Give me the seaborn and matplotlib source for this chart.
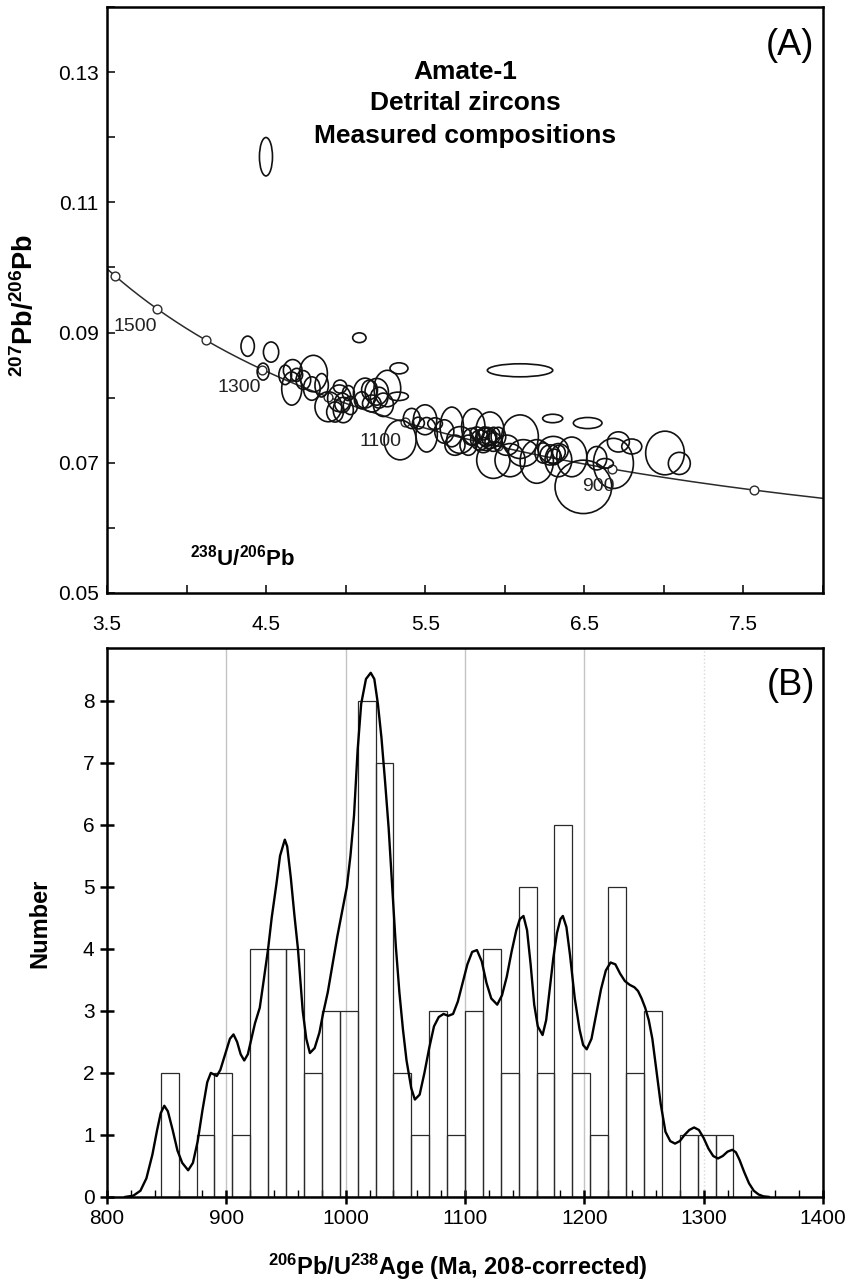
import numpy as np
import matplotlib
matplotlib.use("Agg")
import matplotlib.pyplot as plt
from matplotlib.patches import Ellipse
from matplotlib.ticker import MultipleLocator
import seaborn as sns

# ---------------- Panel A: measured compositions (Tera-Wasserburg) ----------------
# error ellipses: centre (238U/206Pb, 207Pb/206Pb) and full width / height
ell_x = [4.499, 4.384, 4.531, 5.086, 4.481, 5.335, 4.667, 4.661, 4.797, 4.734,
         4.787, 4.849, 4.692, 4.891, 4.960, 4.985, 4.965, 4.933, 5.017, 5.122,
         5.195, 5.262, 5.164, 5.237, 5.101, 5.331, 5.342, 5.415, 5.499, 5.509,
         5.457, 5.562, 5.667, 5.802, 5.907, 5.719, 5.687, 5.792, 5.844, 5.887,
         5.865, 5.928, 5.824, 5.960, 5.771, 6.096, 5.928, 6.033, 6.201, 6.305,
         6.337, 6.421, 6.494, 6.683, 6.714, 6.798, 7.007, 7.097, 6.301, 6.521,
         6.096, 6.578, 6.630, 6.285, 6.242, 6.012, 6.117,
         5.900, 5.870, 5.930, 6.310, 6.340, 4.620, 4.980, 5.030,
         5.210, 5.150, 5.880, 5.620]
ell_y = [0.1170, 0.0879, 0.0870, 0.0892, 0.0840, 0.0845, 0.0842, 0.0814, 0.0837, 0.0827,
         0.0814, 0.0819, 0.0835, 0.0786, 0.0799, 0.0781, 0.0817, 0.0778, 0.0807, 0.0807,
         0.0809, 0.0814, 0.0791, 0.0789, 0.0796, 0.0802, 0.0735, 0.0768, 0.0766, 0.0743,
         0.0761, 0.0760, 0.0755, 0.0755, 0.0750, 0.0735, 0.0727, 0.0740, 0.0735, 0.0740,
         0.0727, 0.0732, 0.0745, 0.0740, 0.0727, 0.0740, 0.0704, 0.0704, 0.0702, 0.0720,
         0.0704, 0.0709, 0.0663, 0.0699, 0.0732, 0.0725, 0.0715, 0.0699, 0.0768, 0.0761,
         0.0842, 0.0707, 0.0699, 0.0712, 0.0715, 0.0727, 0.0715,
         0.0738, 0.0745, 0.0742, 0.0709, 0.0716, 0.0835, 0.0792, 0.0788,
         0.0800, 0.0812, 0.0736, 0.0748]
ell_w = [0.082, 0.084, 0.096, 0.084, 0.075, 0.113, 0.117, 0.126, 0.176, 0.092,
         0.105, 0.084, 0.075, 0.168, 0.147, 0.126, 0.084, 0.105, 0.075, 0.147,
         0.147, 0.168, 0.117, 0.126, 0.092, 0.126, 0.201, 0.105, 0.147, 0.134,
         0.075, 0.092, 0.147, 0.147, 0.176, 0.168, 0.126, 0.105, 0.117, 0.126,
         0.105, 0.105, 0.084, 0.092, 0.105, 0.230, 0.209, 0.189, 0.209, 0.189,
         0.168, 0.189, 0.356, 0.251, 0.138, 0.126, 0.243, 0.138, 0.126, 0.180,
         0.411, 0.126, 0.105, 0.126, 0.105, 0.147, 0.189,
         0.090, 0.070, 0.080, 0.090, 0.080, 0.080, 0.100, 0.090,
         0.110, 0.100, 0.130, 0.120]
ell_h = [0.0059, 0.0031, 0.0031, 0.0015, 0.0026, 0.0017, 0.0033, 0.0051, 0.0056, 0.0029,
         0.0036, 0.0036, 0.0020, 0.0046, 0.0041, 0.0039, 0.0020, 0.0031, 0.0023, 0.0046,
         0.0041, 0.0056, 0.0026, 0.0036, 0.0026, 0.0013, 0.0061, 0.0031, 0.0046, 0.0053,
         0.0018, 0.0018, 0.0061, 0.0056, 0.0056, 0.0041, 0.0031, 0.0026, 0.0031, 0.0029,
         0.0023, 0.0029, 0.0020, 0.0029, 0.0031, 0.0067, 0.0056, 0.0051, 0.0067, 0.0041,
         0.0051, 0.0061, 0.0082, 0.0077, 0.0031, 0.0023, 0.0067, 0.0034, 0.0013, 0.0017,
         0.0020, 0.0036, 0.0015, 0.0031, 0.0031, 0.0031, 0.0041,
         0.0022, 0.0020, 0.0025, 0.0024, 0.0022, 0.0030, 0.0030, 0.0028,
         0.0032, 0.0030, 0.0034, 0.0036]

# concordia age marks (Ma) and the labelled ones with their label positions
concordia_ages = [800, 900, 1000, 1100, 1200, 1300, 1400, 1500, 1600]
label_ages = ["1500", "1300", "1100", "900"]
label_x = [3.676, 4.330, 5.222, 6.586]
label_y = [0.0909, 0.0815, 0.0732, 0.0663]

# ---------------- Panel B: age histogram + probability curve ----------------
bin_left = [845, 860, 875, 890, 905, 920, 935, 950, 965, 980, 995, 1010, 1025,
            1040, 1055, 1070, 1085, 1100, 1115, 1130, 1145, 1160, 1175, 1190,
            1205, 1220, 1235, 1250, 1265, 1280, 1295, 1310]
bin_counts = [2, 0, 1, 2, 1, 4, 4, 4, 2, 3, 3, 8, 7,
              2, 1, 3, 1, 3, 4, 2, 5, 2, 6, 2,
              1, 5, 2, 3, 0, 1, 1, 1]
bin_width = 15

curve_age = [815, 822, 828, 833, 838, 842, 845, 848, 851, 855, 859, 863, 868, 872,
             876, 880, 884, 887, 890, 892, 895, 899, 903, 906, 909, 912, 915, 918,
             921, 924, 928, 931, 935, 938, 942, 945, 949, 951, 954, 957, 960, 964,
             967, 970, 974, 978, 981, 985, 989, 993, 997, 1001, 1004, 1007, 1010,
             1013, 1017, 1021, 1024, 1027, 1030, 1033, 1036, 1039, 1042, 1045, 1048,
             1051, 1055, 1058, 1062, 1066, 1070, 1074, 1078, 1082, 1086, 1090, 1094,
             1098, 1102, 1106, 1110, 1114, 1118, 1122, 1127, 1131, 1135, 1139, 1143,
             1146, 1149, 1152, 1155, 1158, 1161, 1165, 1168, 1171, 1174, 1177, 1180,
             1182, 1185, 1188, 1192, 1196, 1199, 1202, 1206, 1210, 1214, 1218, 1222,
             1226, 1230, 1234, 1238, 1242, 1245, 1248, 1251, 1254, 1257, 1260, 1264,
             1268, 1272, 1276, 1280, 1284, 1288, 1292, 1296, 1300, 1304, 1308, 1312,
             1316, 1320, 1324, 1327, 1330, 1334, 1338, 1342, 1346, 1350, 1355]
curve_num = [0.0, 0.02, 0.1, 0.3, 0.68, 1.08, 1.35, 1.47, 1.38, 1.08, 0.75, 0.55, 0.43, 0.55,
             0.9, 1.4, 1.85, 2.0, 1.97, 1.95, 2.05, 2.3, 2.55, 2.62, 2.5, 2.3, 2.2, 2.3,
             2.55, 2.8, 3.05, 3.45, 4.0, 4.5, 5.05, 5.5, 5.76, 5.65, 5.15, 4.55, 4.0, 3.0,
             2.55, 2.32, 2.4, 2.65, 2.95, 3.3, 3.75, 4.2, 4.6, 5.0, 5.5, 6.15, 7.2,
             7.95, 8.35, 8.45, 8.35, 7.95, 7.4, 6.7, 5.95, 5.0, 4.05, 3.3, 2.7,
             2.2, 1.75, 1.57, 1.65, 2.0, 2.4, 2.75, 2.9, 2.95, 2.92, 2.95, 3.15,
             3.45, 3.75, 3.95, 3.98, 3.8, 3.45, 3.2, 3.1, 3.25, 3.55, 3.95, 4.3,
             4.48, 4.53, 4.3, 3.75, 3.1, 2.75, 2.61, 2.85, 3.35, 3.85, 4.25, 4.48,
             4.53, 4.35, 3.9, 3.2, 2.7, 2.45, 2.38, 2.55, 2.95, 3.35, 3.65, 3.78,
             3.75, 3.6, 3.48, 3.42, 3.38, 3.32, 3.2, 3.05, 2.85, 2.55, 2.1, 1.5,
             1.05, 0.9, 0.86, 0.9, 1.0, 1.08, 1.12, 1.08, 0.95, 0.78, 0.66, 0.62,
             0.66, 0.73, 0.76, 0.72, 0.6, 0.4, 0.22, 0.1, 0.04, 0.01, 0.0]

grid_ages = [900, 1000, 1100, 1200]

# ---------------- style ----------------
sns.set_theme(style="ticks")
plt.rcParams["font.family"] = ["Liberation Sans", "DejaVu Sans"]
plt.rcParams["mathtext.fontset"] = "custom"
plt.rcParams["mathtext.rm"] = "Liberation Sans"
plt.rcParams["mathtext.bf"] = "Liberation Sans:bold"
for key in ("text.color", "axes.labelcolor", "xtick.color", "ytick.color",
            "axes.edgecolor"):
    plt.rcParams[key] = "black"

fig = plt.figure(figsize=(8.48, 12.88), dpi=100)
ax1 = fig.add_axes([0.1262, 0.5396, 0.8443, 0.4550])
ax2 = fig.add_axes([0.1262, 0.0707, 0.8443, 0.4262])

# Tera-Wasserburg concordia from the decay constants
L238, L235, U85 = 1.55125e-10, 9.8485e-10, 137.88


def tw(t_ma):
    t = np.asarray(t_ma, dtype=float) * 1e6
    e8 = np.exp(L238 * t) - 1.0
    e5 = np.exp(L235 * t) - 1.0
    return 1.0 / e8, e5 / e8 / U85


t_line = np.arange(740, 1660, 5)
cx, cy = tw(t_line)
sns.lineplot(x=cx, y=cy, sort=False, color="#2b2b2b", lw=1.1, ax=ax1, zorder=2)
mx, my = tw(concordia_ages)
sns.scatterplot(x=mx, y=my, s=40, facecolor="white", edgecolor="#2b2b2b",
                linewidth=1.0, ax=ax1, zorder=3)

for x, y, w, h in zip(ell_x, ell_y, ell_w, ell_h):
    ax1.add_patch(Ellipse((x, y), w, h, fill=False, edgecolor="#111111",
                          lw=1.2, zorder=4))

for s, x, y in zip(label_ages, label_x, label_y):
    ax1.text(x, y, s, ha="center", va="center", fontsize=14, color="#222222", zorder=5)

ax1.set_xlim(3.5, 8.0)
ax1.set_ylim(0.05, 0.14)
ax1.xaxis.set_minor_locator(MultipleLocator(0.5))
ax1.yaxis.set_minor_locator(MultipleLocator(0.01))
ax1.set_xticks([3.5, 4.5, 5.5, 6.5, 7.5])
ax1.set_xticklabels(["3.5", "4.5", "5.5", "6.5", "7.5"])
ax1.set_yticks([0.05, 0.07, 0.09, 0.11, 0.13])
ax1.set_yticklabels(["0.05", "0.07", "0.09", "0.11", "0.13"])
ax1.tick_params(axis="both", which="both", direction="in", length=6, width=1.1,
                color="black", labelsize=15, bottom=True, left=True,
                top=False, right=False)
ax1.tick_params(axis="x", which="both", pad=16)
ax1.tick_params(axis="y", which="both", pad=6)
ax1.set_xlabel("")
ax1.set_ylabel("")

ax1.text(0.5, 0.889, "Amate-1", transform=ax1.transAxes, ha="center", va="center",
         fontsize=19, fontweight="bold")
ax1.text(0.5, 0.836, "Detrital zircons", transform=ax1.transAxes, ha="center",
         va="center", fontsize=19, fontweight="bold")
ax1.text(0.5, 0.780, "Measured compositions", transform=ax1.transAxes, ha="center",
         va="center", fontsize=19, fontweight="bold")
ax1.text(0.988, 0.935, "(A)", transform=ax1.transAxes, ha="right", va="center",
         fontsize=26)
ax1.text(0.19, 0.061, r"$\mathbf{^{238}}$U/$\mathbf{^{206}}$Pb", transform=ax1.transAxes,
         ha="center", va="center", fontsize=16, fontweight="bold")
fig.text(25 / 848, 1 - 305 / 1288, r"$\mathbf{^{207}}$Pb/$\mathbf{^{206}}$Pb",
         rotation=90, ha="center", va="center", fontsize=19.5, fontweight="bold")

# ---------------- panel B drawing ----------------
for g in grid_ages:
    ax2.axvline(g, color="#c4c4c4", lw=1.0, zorder=0)
ax2.axvline(1300, color="#d8d8d8", lw=1.0, ls=":", zorder=0)

edges = list(bin_left) + [bin_left[-1] + bin_width]
centers = [b + bin_width / 2 for b in bin_left]
sns.histplot(x=centers, weights=bin_counts, bins=edges, fill=False, element="bars",
             color="#2a2a2a", linewidth=0.9, ax=ax2, zorder=2)
sns.lineplot(x=curve_age, y=curve_num, color="black", lw=1.7, ax=ax2, zorder=3)

ax2.set_xlim(800, 1400)
ax2.set_ylim(0, 8.85)
ax2.xaxis.set_major_locator(MultipleLocator(100))
ax2.xaxis.set_minor_locator(MultipleLocator(20))
ax2.yaxis.set_major_locator(MultipleLocator(1))
ax2.tick_params(axis="both", which="major", direction="inout", length=10, width=1.8,
                color="black", labelsize=15, bottom=True, left=True,
                top=False, right=False)
ax2.tick_params(axis="x", which="minor", direction="in", length=5, width=1.0,
                color="black", bottom=True, top=False)
ax2.tick_params(axis="y", which="minor", left=False, right=False)
ax2.tick_params(axis="x", which="major", pad=4)
ax2.tick_params(axis="y", which="major", pad=4)
ax2.set_xlabel("")
ax2.set_ylabel("")
ax2.text(0.989, 0.931, "(B)", transform=ax2.transAxes, ha="right", va="center",
         fontsize=26)
fig.text(40 / 848, 1 - 923 / 1288, "Number", rotation=90, ha="center", va="center",
         fontsize=17, fontweight="bold")
fig.text(458 / 848, 1 - 1267 / 1288,
         r"$\mathbf{^{206}}$Pb/U$\mathbf{^{238}}$Age (Ma, 208-corrected)",
         ha="center", va="center", fontsize=17, fontweight="bold")

for ax in (ax1, ax2):
    for sp in ax.spines.values():
        sp.set_visible(True)
        sp.set_color("black")
        sp.set_linewidth(1.8)
    ax.set_facecolor("white")

fig.savefig("out.png", dpi=100, facecolor="white")
